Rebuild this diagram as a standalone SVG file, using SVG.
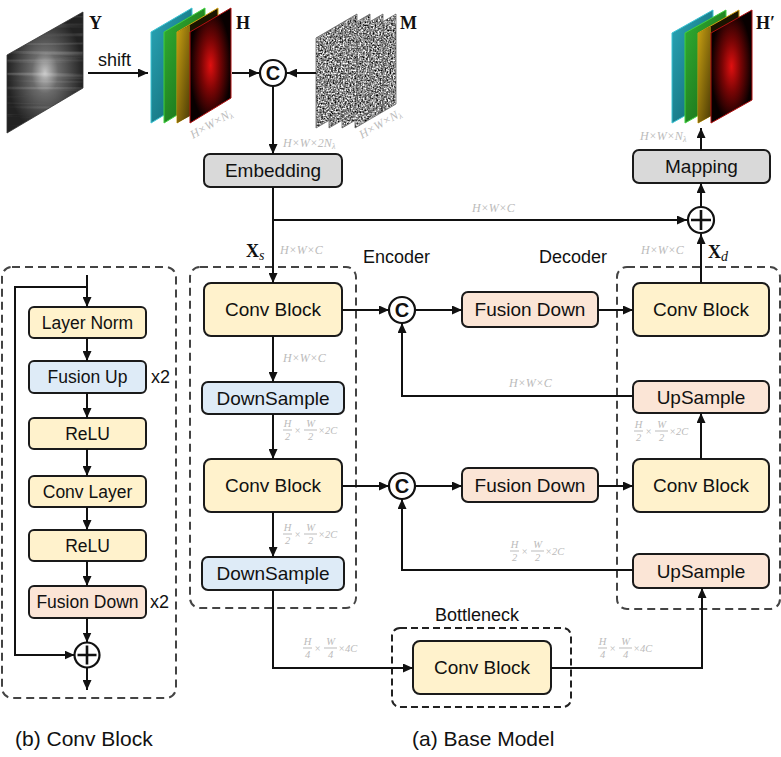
<svg xmlns="http://www.w3.org/2000/svg" width="781" height="757" viewBox="0 0 781 757">
<defs>
<style>
.box{stroke:#1a1a1a;stroke-width:2}
.yel{fill:#FFF2CC}.blu{fill:#DEEBF7}.pch{fill:#FBE5D6}.gry{fill:#D9D9D9}
.t{font-family:"Liberation Sans",Arial,sans-serif;font-size:19px;text-anchor:middle;fill:#111}
.ts{font-family:"Liberation Sans",Arial,sans-serif;font-size:17.5px;text-anchor:middle;fill:#111}
.lab{font-family:"Liberation Sans",Arial,sans-serif;font-size:18px;fill:#111}
.cap{font-family:"Liberation Sans",Arial,sans-serif;font-size:21px;fill:#111}
.bs{font-family:"Liberation Serif","Times New Roman",serif;font-weight:bold;font-size:18px;fill:#111}
.it{font-family:"Liberation Serif","Times New Roman",serif;font-style:italic;font-weight:normal}
.dim{font-family:"Liberation Serif","Times New Roman",serif;font-style:italic;font-size:12px;fill:#BBBBBB}
.fr{font-family:"Liberation Serif","Times New Roman",serif;font-style:italic;font-size:10.5px;fill:#BBBBBB}
.fr line{stroke:#BBBBBB;stroke-width:1}
.conn{stroke:#111;stroke-width:2;fill:none}
.arr{marker-end:url(#ah)}
.dash{stroke:#444;stroke-width:2;fill:none;stroke-dasharray:8 5}
.circ{fill:#fff;stroke:#111;stroke-width:2.2}
.cc{font-family:"Liberation Sans",Arial,sans-serif;font-weight:bold;font-size:20px;text-anchor:middle;fill:#111}
</style>
<marker id="ah" markerUnits="userSpaceOnUse" markerWidth="10" markerHeight="9" refX="10" refY="4.5" orient="auto">
<path d="M0,0 L10,4.5 L0,9 Z" fill="#111"/>
</marker>
<filter id="noiseGray" x="0" y="0" width="1" height="1" color-interpolation-filters="sRGB">
<feTurbulence type="fractalNoise" baseFrequency="0.6" numOctaves="2" seed="3"/>
<feColorMatrix type="matrix" values="1.8 0 0 0 -0.35  1.8 0 0 0 -0.35  1.8 0 0 0 -0.35  0 0 0 0 1"/>
</filter>
<filter id="streak" x="0" y="0" width="1" height="1" color-interpolation-filters="sRGB">
<feTurbulence type="fractalNoise" baseFrequency="0.006 0.22" numOctaves="2" seed="5"/>
<feColorMatrix type="matrix" values="0 0 0 0 1  0 0 0 0 1  0 0 0 0 1  3 0 0 0 -1.6"/>
</filter>
<radialGradient id="gY" cx="0.5" cy="0.5" r="0.5">
<stop offset="0" stop-color="#c4c4c4"/><stop offset="0.35" stop-color="#6a6a6a"/><stop offset="1" stop-color="#222"/>
</radialGradient>
<linearGradient id="gC" x1="0" y1="0" x2="1" y2="1"><stop offset="0" stop-color="#2aa7b8"/><stop offset="1" stop-color="#0d5e68"/></linearGradient>
<linearGradient id="gG" x1="0" y1="0" x2="1" y2="1"><stop offset="0" stop-color="#32b032"/><stop offset="1" stop-color="#145f14"/></linearGradient>
<linearGradient id="gYe" x1="0" y1="0" x2="1" y2="1"><stop offset="0" stop-color="#c9a012"/><stop offset="1" stop-color="#4a3a05"/></linearGradient>
<radialGradient id="gR" cx="0.5" cy="0.5" r="0.5">
<stop offset="0" stop-color="#e01010"/><stop offset="0.45" stop-color="#7a0505"/><stop offset="1" stop-color="#080000"/>
</radialGradient>
<clipPath id="cY"><path d="M7,55 L83,12 L83,88 L7,133 Z"/></clipPath>
<clipPath id="cM0"><path d="M355,38 L396,14 L396,104 L355,128 Z"/></clipPath>
<clipPath id="cM1"><path d="M342,38 L383,14 L383,104 L342,128 Z"/></clipPath>
<clipPath id="cM2"><path d="M329,38 L370,14 L370,104 L329,128 Z"/></clipPath>
<clipPath id="cM3"><path d="M316,38 L357,14 L357,104 L316,128 Z"/></clipPath>
</defs>
<rect width="781" height="757" fill="#fff"/>

<!-- Input image Y -->
<g id="img-Y">
<path d="M7,55 L83,12 L83,88 L7,133 Z" fill="url(#gY)"/>
<g clip-path="url(#cY)"><rect x="7" y="12" width="76" height="121" filter="url(#streak)" opacity="0.22"/></g>
<path d="M7,55 L83,12 L83,88 L7,133 Z" fill="none" stroke="#333" stroke-width="0.8"/>
<text class="bs" x="89" y="29">Y</text>
</g>

<!-- H stack -->
<g id="img-H">
<path d="M151,32 L192,8 L192,98 L151,123 Z" fill="url(#gC)" stroke="#3cc4d4" stroke-width="1"/>
<path d="M164,32 L205,8 L205,98 L164,123 Z" fill="url(#gG)" stroke="#40d040" stroke-width="1"/>
<path d="M177,32 L218,8 L218,98 L177,123 Z" fill="#1a1400" stroke="#d0a010" stroke-width="1"/>
<path d="M177,32 L190,25 L190,116 L177,123 Z" fill="url(#gYe)"/>
<path d="M190,32 L231,8 L231,98 L190,123 Z" fill="url(#gR)" stroke="#b01010" stroke-width="1"/>
<text class="bs" x="236" y="29">H</text>
<text class="dim" transform="translate(193,139) rotate(-30)">H×W×N<tspan font-size="8" dy="2">λ</tspan></text>
</g>

<!-- M stack -->
<g id="img-M">
<g clip-path="url(#cM0)"><rect x="316" y="10" width="82" height="120" filter="url(#noiseGray)"/></g>
<path d="M355,38 L396,14 L396,104 L355,128 Z" fill="none" stroke="#666" stroke-width="0.8"/>
<g clip-path="url(#cM1)"><rect x="316" y="10" width="82" height="120" filter="url(#noiseGray)"/></g>
<path d="M342,38 L383,14 L383,104 L342,128 Z" fill="none" stroke="#666" stroke-width="0.8"/>
<g clip-path="url(#cM2)"><rect x="316" y="10" width="82" height="120" filter="url(#noiseGray)"/></g>
<path d="M329,38 L370,14 L370,104 L329,128 Z" fill="none" stroke="#666" stroke-width="0.8"/>
<g clip-path="url(#cM3)"><rect x="316" y="10" width="82" height="120" filter="url(#noiseGray)"/></g>
<path d="M316,38 L357,14 L357,104 L316,128 Z" fill="none" stroke="#666" stroke-width="0.8"/>
<text class="bs" x="400" y="29">M</text>
<text class="dim" transform="translate(362,139) rotate(-30)">H×W×N<tspan font-size="8" dy="2">λ</tspan></text>
</g>

<!-- H' stack -->
<g id="img-Hprime">
<path d="M672,33 L713,10 L713,100 L672,123 Z" fill="url(#gC)" stroke="#3cc4d4" stroke-width="1"/>
<path d="M685,33 L726,10 L726,100 L685,123 Z" fill="url(#gG)" stroke="#40d040" stroke-width="1"/>
<path d="M698,33 L739,10 L739,100 L698,123 Z" fill="#1a1400" stroke="#d0a010" stroke-width="1"/>
<path d="M698,33 L711,26 L711,116 L698,123 Z" fill="url(#gYe)"/>
<path d="M711,33 L752,10 L752,100 L711,123 Z" fill="url(#gR)" stroke="#b01010" stroke-width="1"/>
<text class="bs" x="756" y="29">H′</text>
</g>

<!-- concat C top -->
<g id="concat-top">
<circle class="circ" cx="273" cy="73" r="13"/>
<text class="cc" x="273" y="80">C</text>
</g>

<g id="embedding">
<rect class="box gry" x="204" y="154" width="138" height="33" rx="6"/>
<text class="t" x="273" y="177">Embedding</text>
</g>

<g id="mapping">
<rect class="box gry" x="633" y="150" width="137" height="33" rx="6"/>
<text class="t" x="701.5" y="173">Mapping</text>
</g>

<g id="plus-top">
<circle class="circ" cx="701" cy="220" r="13"/>
<path d="M701,210 V230 M691,220 H711" stroke="#111" stroke-width="2.6"/>
</g>

<!-- Encoder -->
<g id="encoder">
<rect class="dash" x="190" y="267" width="166" height="341" rx="10"/>
<text class="lab" x="363" y="263">Encoder</text>
</g>
<g id="enc-conv1">
<rect class="box yel" x="204" y="283" width="138" height="53" rx="7"/>
<text class="t" x="273" y="316">Conv Block</text>
</g>
<g id="enc-down1">
<rect class="box blu" x="202" y="382" width="142" height="32" rx="6"/>
<text class="t" x="273" y="405">DownSample</text>
</g>
<g id="enc-conv2">
<rect class="box yel" x="204" y="459" width="138" height="53" rx="7"/>
<text class="t" x="273" y="492">Conv Block</text>
</g>
<g id="enc-down2">
<rect class="box blu" x="202" y="557" width="142" height="33" rx="6"/>
<text class="t" x="273" y="580">DownSample</text>
</g>

<g id="concat1">
<circle class="circ" cx="402" cy="310" r="13"/>
<text class="cc" x="402" y="317">C</text>
</g>
<g id="concat2">
<circle class="circ" cx="402" cy="486" r="13"/>
<text class="cc" x="402" y="493">C</text>
</g>
<g id="fusion-down1">
<rect class="box pch" x="462" y="292" width="136" height="35" rx="6"/>
<text class="t" x="530" y="316">Fusion Down</text>
</g>
<g id="fusion-down2">
<rect class="box pch" x="462" y="468" width="136" height="34" rx="6"/>
<text class="t" x="530" y="491.5">Fusion Down</text>
</g>

<!-- Decoder -->
<g id="decoder">
<rect class="dash" x="617" y="267" width="163" height="342" rx="10"/>
<text class="lab" x="539" y="263">Decoder</text>
</g>
<g id="dec-conv1">
<rect class="box yel" x="633" y="283" width="136" height="53" rx="7"/>
<text class="t" x="701" y="316">Conv Block</text>
</g>
<g id="dec-up1">
<rect class="box pch" x="633" y="381" width="136" height="32" rx="6"/>
<text class="t" x="701" y="404">UpSample</text>
</g>
<g id="dec-conv2">
<rect class="box yel" x="633" y="459" width="136" height="53" rx="7"/>
<text class="t" x="701" y="492">Conv Block</text>
</g>
<g id="dec-up2">
<rect class="box pch" x="633" y="554" width="136" height="34" rx="6"/>
<text class="t" x="701" y="578">UpSample</text>
</g>

<!-- Bottleneck -->
<g id="bottleneck">
<rect x="392" y="628" width="179" height="79" rx="8" fill="none" stroke="#222" stroke-width="2" stroke-dasharray="7 4"/>
<text class="lab" x="477" y="621" text-anchor="middle" font-size="18.5">Bottleneck</text>
<rect class="box yel" x="413" y="641" width="138" height="53" rx="7"/>
<text class="t" x="482" y="674">Conv Block</text>
</g>

<!-- Conv Block detail (b) -->
<g id="convblock-detail">
<rect class="dash" x="2" y="267" width="174" height="431" rx="10"/>
</g>
<g id="cb-layernorm">
<rect class="box yel" x="29" y="307" width="117" height="31" rx="5"/>
<text class="ts" x="87.5" y="328.5">Layer Norm</text>
</g>
<g id="cb-fusionup">
<rect class="box blu" x="29" y="361" width="117" height="32" rx="5"/>
<text class="ts" x="87.5" y="383">Fusion Up</text>
<text class="lab" x="151" y="383" font-size="17">x2</text>
</g>
<g id="cb-relu1">
<rect class="box yel" x="29" y="418" width="117" height="31" rx="5"/>
<text class="ts" x="87.5" y="439.5">ReLU</text>
</g>
<g id="cb-convlayer">
<rect class="box yel" x="29" y="476" width="117" height="31" rx="5"/>
<text class="ts" x="87.5" y="497.5">Conv Layer</text>
</g>
<g id="cb-relu2">
<rect class="box yel" x="29" y="530" width="117" height="31" rx="5"/>
<text class="ts" x="87.5" y="551.5">ReLU</text>
</g>
<g id="cb-fusiondown">
<rect class="box pch" x="29" y="586" width="117" height="32" rx="5"/>
<text class="ts" x="87.5" y="608">Fusion Down</text>
<text class="lab" x="150" y="608" font-size="17">x2</text>
</g>
<g id="cb-plus">
<circle class="circ" cx="87" cy="655" r="12.5"/>
<path d="M87,645.5 V664.5 M77.5,655 H96.5" stroke="#111" stroke-width="2.6"/>
</g>

<!-- Connectors -->
<g id="connectors">
<path class="conn arr" d="M88,73 H148"/>
<path class="conn arr" d="M232,73 H259"/>
<path class="conn arr" d="M316,73 H287"/>
<path class="conn arr" d="M273,86 V154"/>
<path class="conn arr" d="M273,187 V283"/>
<path class="conn arr" d="M273,220 H687"/>
<path class="conn arr" d="M342,310 H389"/>
<path class="conn arr" d="M415,310 H462"/>
<path class="conn arr" d="M598,310 H633"/>
<path class="conn arr" d="M701,283 V234"/>
<path class="conn arr" d="M701,207 V183"/>
<path class="conn arr" d="M701,150 V128"/>
<path class="conn arr" d="M273,336 V382"/>
<path class="conn arr" d="M273,414 V459"/>
<path class="conn arr" d="M342,486 H389"/>
<path class="conn arr" d="M415,486 H462"/>
<path class="conn arr" d="M598,486 H633"/>
<path class="conn arr" d="M273,512 V557"/>
<path class="conn arr" d="M273,590 V668 H413"/>
<path class="conn arr" d="M551,668 H702 V588"/>
<path class="conn arr" d="M633,570 H402 V499"/>
<path class="conn arr" d="M701,459 V413"/>
<path class="conn arr" d="M633,396 H402 V323"/>
<path class="conn arr" d="M87,275 V307"/>
<path class="conn arr" d="M87,287 H15 V655 H74.5"/>
<path class="conn arr" d="M87,338 V361"/>
<path class="conn arr" d="M87,393 V418"/>
<path class="conn arr" d="M87,449 V476"/>
<path class="conn arr" d="M87,507 V530"/>
<path class="conn arr" d="M87,561 V586"/>
<path class="conn arr" d="M87,618 V642.5"/>
<path class="conn arr" d="M87,667.5 V690"/>
</g>

<!-- Shape labels -->
<g id="labels">
<text class="lab" x="98" y="66">shift</text>
<text class="dim" x="283" y="147">H×W×2N<tspan font-size="8" dy="2">λ</tspan></text>
<text class="dim" x="640" y="140">H×W×N<tspan font-size="8" dy="2">λ</tspan></text>
<text class="dim" x="472" y="212">H×W×C</text>
<text class="dim" x="280" y="254">H×W×C</text>
<text class="dim" x="641" y="254">H×W×C</text>
<text class="dim" x="283" y="362">H×W×C</text>
<text class="dim" x="509" y="387">H×W×C</text>
<text class="bs" x="246" y="257">X<tspan class="it" font-size="14" dy="3">s</tspan></text>
<text class="bs" x="708" y="258">X<tspan class="it" font-size="14" dy="3">d</tspan></text>

<g class="fr" transform="translate(283,430)">
<text x="4.5" y="-3" text-anchor="middle">H</text><line x1="0" y1="0" x2="9" y2="0"/><text x="4.5" y="10" text-anchor="middle">2</text>
<text x="14.5" y="4" text-anchor="middle">×</text>
<text x="27.5" y="-3" text-anchor="middle">W</text><line x1="21" y1="0" x2="34" y2="0"/><text x="27.5" y="10" text-anchor="middle">2</text>
<text x="35" y="4">×2C</text>
</g>
<g class="fr" transform="translate(283,534)">
<text x="4.5" y="-3" text-anchor="middle">H</text><line x1="0" y1="0" x2="9" y2="0"/><text x="4.5" y="10" text-anchor="middle">2</text>
<text x="14.5" y="4" text-anchor="middle">×</text>
<text x="27.5" y="-3" text-anchor="middle">W</text><line x1="21" y1="0" x2="34" y2="0"/><text x="27.5" y="10" text-anchor="middle">2</text>
<text x="35" y="4">×2C</text>
</g>
<g class="fr" transform="translate(634,431)">
<text x="4.5" y="-3" text-anchor="middle">H</text><line x1="0" y1="0" x2="9" y2="0"/><text x="4.5" y="10" text-anchor="middle">2</text>
<text x="14.5" y="4" text-anchor="middle">×</text>
<text x="27.5" y="-3" text-anchor="middle">W</text><line x1="21" y1="0" x2="34" y2="0"/><text x="27.5" y="10" text-anchor="middle">2</text>
<text x="35" y="4">×2C</text>
</g>
<g class="fr" transform="translate(510,551)">
<text x="4.5" y="-3" text-anchor="middle">H</text><line x1="0" y1="0" x2="9" y2="0"/><text x="4.5" y="10" text-anchor="middle">2</text>
<text x="14.5" y="4" text-anchor="middle">×</text>
<text x="27.5" y="-3" text-anchor="middle">W</text><line x1="21" y1="0" x2="34" y2="0"/><text x="27.5" y="10" text-anchor="middle">2</text>
<text x="35" y="4">×2C</text>
</g>
<g class="fr" transform="translate(303,648)">
<text x="4.5" y="-3" text-anchor="middle">H</text><line x1="0" y1="0" x2="9" y2="0"/><text x="4.5" y="10" text-anchor="middle">4</text>
<text x="14.5" y="4" text-anchor="middle">×</text>
<text x="27.5" y="-3" text-anchor="middle">W</text><line x1="21" y1="0" x2="34" y2="0"/><text x="27.5" y="10" text-anchor="middle">4</text>
<text x="35" y="4">×4C</text>
</g>
<g class="fr" transform="translate(598,648)">
<text x="4.5" y="-3" text-anchor="middle">H</text><line x1="0" y1="0" x2="9" y2="0"/><text x="4.5" y="10" text-anchor="middle">4</text>
<text x="14.5" y="4" text-anchor="middle">×</text>
<text x="27.5" y="-3" text-anchor="middle">W</text><line x1="21" y1="0" x2="34" y2="0"/><text x="27.5" y="10" text-anchor="middle">4</text>
<text x="35" y="4">×4C</text>
</g>

<text class="cap" x="15" y="746">(b) Conv Block</text>
<text class="cap" x="412" y="746">(a) Base Model</text>
</g>
</svg>
